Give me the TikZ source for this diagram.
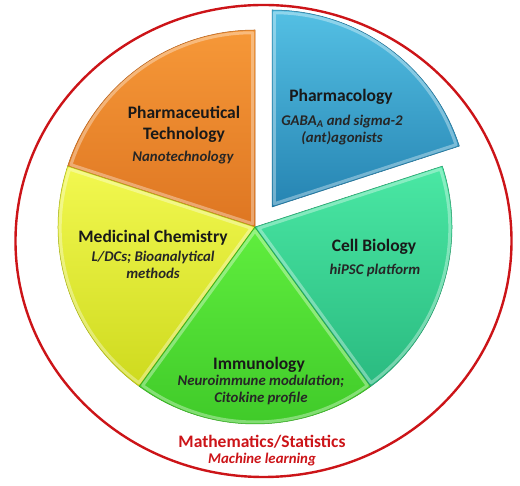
\documentclass[tikz,border=0pt]{standalone}
\usepackage{fontspec}
\setmainfont{Carlito}
\usetikzlibrary{calc}

\definecolor{bluetop}{RGB}{84,192,228}
\definecolor{bluebot}{RGB}{38,132,178}
\definecolor{orangetop}{RGB}{246,152,56}
\definecolor{orangebot}{RGB}{222,118,34}
\definecolor{yellowtop}{RGB}{242,248,80}
\definecolor{yellowbot}{RGB}{206,218,30}
\definecolor{greentop}{RGB}{96,238,62}
\definecolor{greenbot}{RGB}{62,200,40}
\definecolor{tealtop}{RGB}{74,232,164}
\definecolor{tealbot}{RGB}{42,186,128}
\definecolor{mathred}{RGB}{204,20,24}

\tikzset{
  slice/.style={line width=0.5pt},
  rim/.style={white,opacity=0.35,line width=3pt},
  titletext/.style={font=\fontsize{17.5}{21}\selectfont\bfseries,align=center,text=black!90},
  subtext/.style={font=\fontsize{14.8}{17}\selectfont\bfseries\itshape,align=center,text=black!85}
}

\begin{document}
\begin{tikzpicture}[x=1pt,y=1pt,line cap=round,line join=round]
  \useasboundingbox (0,0) rectangle (520,486);
  \coordinate (c) at (255,259);
  % outer ring
  \draw[mathred,line width=2.4pt] (263.5,245) ellipse [x radius=248,y radius=236];
  % pie slices
  \foreach \a/\col in {90/orange,162/yellow,234/green,306/teal} {
    \path[slice,top color=\col top,bottom color=\col bot,draw=\col bot!80!black]
      (c) -- ++(\a:197) arc[start angle=\a,end angle=\a+72,radius=197] -- cycle;
    \draw[rim] ($(c)+(\a+36:4)$) -- ++(\a:191) arc[start angle=\a,end angle=\a+72,radius=191] -- cycle;
  }
  % exploded slice
  \coordinate (cb) at ($(c)+(17,20)$);
  \path[slice,top color=bluetop,bottom color=bluebot,draw=bluebot!80!black]
    (cb) -- ++(18:197) arc[start angle=18,end angle=90,radius=197] -- cycle;
  \draw[rim] ($(cb)+(54:4)$) -- ++(18:191) arc[start angle=18,end angle=90,radius=191] -- cycle;
  % labels
  \node[titletext] (pharmacology) at (341,389) {Pharmacology};
  \node[subtext] (gaba) at (342,356) {GABA\textsubscript{A} and sigma-2\\(ant)agonists};
  \node[titletext] (pharmtech) at (184,362) {Pharmaceutical\\Technology};
  \node[subtext] (nano) at (183,328) {Nanotechnology};
  \node[titletext] (medchem) at (153,248) {Medicinal Chemistry};
  \node[subtext] (ldcs) at (153,221) {L/DCs; Bioanalytical\\methods};
  \node[titletext] (cellbio) at (374,239) {Cell Biology};
  \node[subtext] (hipsc) at (375,216) {hiPSC platform};
  \node[titletext] (immuno) at (259,121) {Immunology};
  \node[subtext] (neuro) at (261,96) {Neuroimmune modulation;\\Citokine profile};
  \node[titletext,text=mathred] (maths) at (262,44) {Mathematics/Statistics};
  \node[subtext,text=mathred] (ml) at (262,26) {Machine learning};
\end{tikzpicture}
\end{document}
